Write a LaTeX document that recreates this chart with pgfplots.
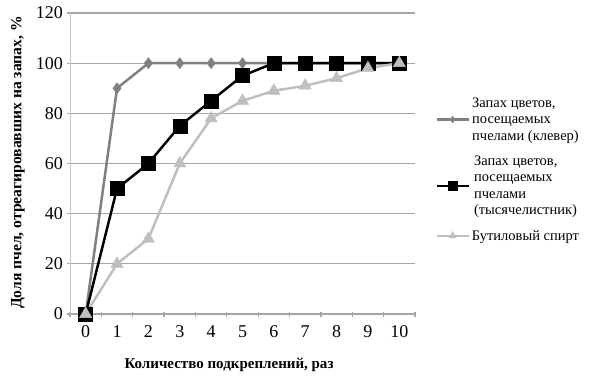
\documentclass[border=0pt]{standalone}
\usepackage{fontspec}
\setmainfont{Liberation Serif}
\usepackage{pgfplots}
\pgfplotsset{compat=1.18}
\definecolor{clover}{RGB}{128,128,128}
\definecolor{butyl}{RGB}{191,191,191}
\definecolor{gridc}{RGB}{166,166,166}
\begin{document}
\begin{tikzpicture}
\path (-70bp,-67bp) rectangle (530bp,314bp);
\begin{axis}[
  scale only axis,
  width=345bp, height=301bp,
  xmin=-0.5, xmax=10.5, ymin=0, ymax=120,
  xtick={0,...,10},
  minor xtick={-0.5,0.5,...,10.5},
  ytick={0,20,...,120},
  major x tick style={draw=none},
  minor x tick style={draw=gridc, line width=1.2pt},
  y tick style={draw=gridc, line width=1.2pt},
  tick align=outside,
  major tick length=5bp, minor tick length=5bp,
  axis x line=bottom, axis y line=left,
  x axis line style={-, draw=gridc, line width=1.5pt},
  y axis line style={-, draw=gridc!60, line width=0.8pt},
  ymajorgrids, grid style={draw=gridc, line width=1.3pt},
  /pgf/number format/assume math mode=true,
  tick label style={font=\fontsize{18bp}{20bp}\selectfont},
  yticklabel style={xshift=-1bp},
  xticklabel style={yshift=-6bp},
  xlabel={\textbf{Количество подкреплений, раз}},
  ylabel={\textbf{Доля пчел, отреагировавших на запах, \%}},
  label style={font=\fontsize{15bp}{17bp}\selectfont},
  y label style={font=\fontsize{15.6bp}{17bp}\selectfont},
  x label style={at={(axis description cs:0.461,-0.17)}, anchor=center},
  y label style={at={(axis description cs:-0.151,0.503)}, anchor=center, rotate=0},
  clip=false,
  legend style={at={(axis description cs:1.05,0.48)}, anchor=west, draw=none,
    font=\fontsize{14.5bp}{16.5bp}\selectfont, row sep=10bp, cells={align=left}},
  legend image code/.code={\draw[mark repeat=2,mark phase=2,#1,/tikz/every mark/.append style={scale=0.6}] plot coordinates {(0bp,0bp) (16bp,0bp) (32bp,0bp)};},
]
\addplot[color=clover, line width=2.5pt, mark=diamond*, mark size=5.5bp, mark options={solid, fill=clover, line width=0.5pt}]
  coordinates {(0,0) (1,90) (2,100) (3,100) (4,100) (5,100) (6,100) (7,100) (8,100) (9,100) (10,100)};
\addlegendentry{Запах цветов,\\посещаемых\\пчелами (клевер)}
\addplot[color=black, line width=2.5pt, mark=square*, mark size=7bp, mark options={solid, fill=black, line width=0.5pt}]
  coordinates {(0,0) (1,50) (2,60) (3,75) (4,85) (5,95) (6,100) (7,100) (8,100) (9,100) (10,100)};
\addlegendentry{Запах цветов,\\посещаемых\\пчелами\\(тысячелистник)}
\addplot[color=butyl, line width=2.5pt, mark=triangle*, mark size=7bp, mark options={solid, fill=butyl, line width=0.5pt}]
  coordinates {(0,0) (1,20) (2,30) (3,60) (4,78) (5,85) (6,89) (7,91) (8,94) (9,98) (10,100)};
\addlegendentry{Бутиловый спирт}
\end{axis}
\end{tikzpicture}
\end{document}
